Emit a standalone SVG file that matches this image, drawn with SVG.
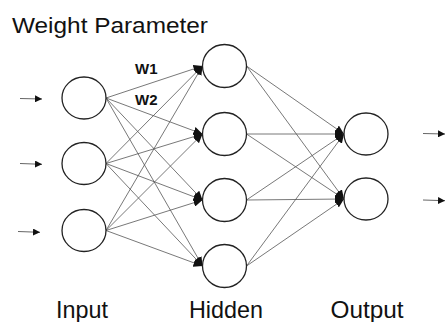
<svg xmlns="http://www.w3.org/2000/svg" width="445" height="322" viewBox="0 0 445 322">
<defs>
<marker id="ah" markerUnits="userSpaceOnUse" markerWidth="10" markerHeight="8" refX="9" refY="4" orient="auto">
<path d="M0,0 L9,4 L0,8 Z" fill="#111"/>
</marker>
<marker id="sa" markerUnits="userSpaceOnUse" markerWidth="8" markerHeight="7" refX="7" refY="3.5" orient="auto">
<path d="M0,0 L7,3.5 L0,7 Z" fill="#111"/>
</marker>
<style>
.n{fill:#fff;stroke:#222;stroke-width:1.3}
.e{stroke:#555;stroke-width:0.8;fill:none;marker-end:url(#ah)}
.s{stroke:#555;stroke-width:0.9;fill:none;marker-end:url(#sa)}
.t{font-family:"Liberation Sans",Arial,sans-serif;fill:#111}
.w{font-family:"Liberation Sans",Arial,sans-serif;font-weight:bold;font-size:15px;fill:#111}
</style>
</defs>
<rect width="445" height="322" fill="#fff"/>
<text class="t" x="12" y="33" font-size="22" textLength="196" lengthAdjust="spacingAndGlyphs">Weight Parameter</text>
<g id="connectors">
<line class="s" x1="20" y1="98.5" x2="42" y2="99"/>
<line class="s" x1="20" y1="163.5" x2="42" y2="164.3"/>
<line class="s" x1="18" y1="231.5" x2="40" y2="232.3"/>
<line class="s" x1="423" y1="133.5" x2="445" y2="134"/>
<line class="s" x1="423" y1="200" x2="445" y2="200.7"/>
<line class="e" x1="106" y1="98" x2="202.5" y2="66"/>
<line class="e" x1="106" y1="98" x2="202.5" y2="134"/>
<line class="e" x1="106" y1="98" x2="202.5" y2="200"/>
<line class="e" x1="106" y1="98" x2="202.5" y2="266"/>
<line class="e" x1="106" y1="163.5" x2="202.5" y2="66"/>
<line class="e" x1="106" y1="163.5" x2="202.5" y2="134"/>
<line class="e" x1="106" y1="163.5" x2="202.5" y2="200"/>
<line class="e" x1="106" y1="163.5" x2="202.5" y2="266"/>
<line class="e" x1="106" y1="230.5" x2="202.5" y2="66"/>
<line class="e" x1="106" y1="230.5" x2="202.5" y2="134"/>
<line class="e" x1="106" y1="230.5" x2="202.5" y2="200"/>
<line class="e" x1="106" y1="230.5" x2="202.5" y2="266"/>
<line class="e" x1="246.5" y1="66" x2="344" y2="134"/>
<line class="e" x1="246.5" y1="66" x2="344" y2="199"/>
<line class="e" x1="246.5" y1="134" x2="344" y2="134"/>
<line class="e" x1="246.5" y1="134" x2="344" y2="199"/>
<line class="e" x1="246.5" y1="200" x2="344" y2="134"/>
<line class="e" x1="246.5" y1="200" x2="344" y2="199"/>
<line class="e" x1="246.5" y1="266" x2="344" y2="134"/>
<line class="e" x1="246.5" y1="266" x2="344" y2="199"/>
</g>
<g id="in1"><ellipse class="n" cx="84" cy="98" rx="22" ry="21"/></g>
<g id="in2"><ellipse class="n" cx="84" cy="163.5" rx="22" ry="21"/></g>
<g id="in3"><ellipse class="n" cx="84" cy="230.5" rx="22" ry="21"/></g>
<g id="h1"><ellipse class="n" cx="224.5" cy="66" rx="22" ry="21.5"/></g>
<g id="h2"><ellipse class="n" cx="224.5" cy="134" rx="22" ry="21.5"/></g>
<g id="h3"><ellipse class="n" cx="224.5" cy="200" rx="22" ry="21.5"/></g>
<g id="h4"><ellipse class="n" cx="224.5" cy="266" rx="22" ry="21.5"/></g>
<g id="o1"><ellipse class="n" cx="366" cy="134" rx="22" ry="21"/></g>
<g id="o2"><ellipse class="n" cx="366" cy="199" rx="22" ry="21"/></g>
<text class="w" x="135" y="74">W1</text>
<text class="w" x="135" y="105">W2</text>
<text class="t" x="56" y="318" font-size="24" textLength="52" lengthAdjust="spacingAndGlyphs">Input</text>
<text class="t" x="189" y="318" font-size="24" textLength="74" lengthAdjust="spacingAndGlyphs">Hidden</text>
<text class="t" x="330.5" y="318" font-size="24" textLength="73" lengthAdjust="spacingAndGlyphs">Output</text>
</svg>
